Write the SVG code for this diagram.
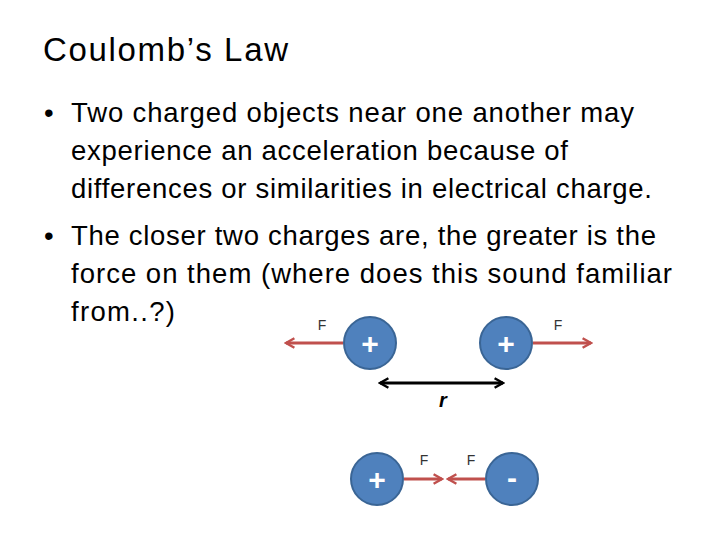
<svg xmlns="http://www.w3.org/2000/svg" width="720" height="540" viewBox="0 0 720 540">
<style>
text{font-family:"Liberation Sans","Open Sans",sans-serif;fill:#000}
.b{font-size:27.5px}
.f{font-size:14px;fill:#333}
.ch{fill:#4f81bd;stroke:#3a6595;stroke-width:2}
.sg{fill:#fff;font-size:30px;font-weight:bold;text-anchor:middle}
.red{stroke:#c0504d;stroke-width:3;fill:none}
</style>
<defs>
<marker id="ra" viewBox="0 0 10 10" refX="8" refY="5" markerWidth="4" markerHeight="4" orient="auto-start-reverse"><path d="M1,1 L8,5 L1,9" fill="none" stroke="#c0504d" stroke-width="2"/></marker>
<marker id="ka" viewBox="0 0 10 10" refX="8" refY="5" markerWidth="4" markerHeight="4" orient="auto-start-reverse"><path d="M1,1 L8,5 L1,9" fill="none" stroke="#000" stroke-width="2"/></marker>
</defs>
<rect width="720" height="540" fill="#fff"/>
<text x="43" y="61" font-size="33" textLength="245">Coulomb’s Law</text>
<text x="44" y="122" class="b">•</text>
<text x="71" y="122" class="b" textLength="563">Two charged objects near one another may</text>
<text x="71" y="160" class="b" textLength="497">experience an acceleration because of</text>
<text x="71" y="198" class="b" textLength="581">differences or similarities in electrical charge.</text>
<text x="44" y="245" class="b">•</text>
<text x="71" y="245" class="b" textLength="585">The closer two charges are, the greater is the</text>
<text x="71" y="283" class="b" textLength="601">force on them (where does this sound familiar</text>
<text x="71" y="321" class="b" textLength="104">from..?)</text>
<g id="connectors">
<line class="red" x1="343" y1="343" x2="286" y2="343" marker-end="url(#ra)"/>
<line class="red" x1="533" y1="343" x2="591" y2="343" marker-end="url(#ra)"/>
<line stroke="#000" stroke-width="3" x1="380" y1="383" x2="503" y2="383" marker-start="url(#ka)" marker-end="url(#ka)"/>
<line class="red" x1="404" y1="479" x2="442" y2="479" marker-end="url(#ra)"/>
<line class="red" x1="485" y1="479" x2="448" y2="479" marker-end="url(#ra)"/>
</g>
<text x="322" y="330" class="f" text-anchor="middle">F</text>
<text x="558" y="330" class="f" text-anchor="middle">F</text>
<text x="424" y="465" class="f" text-anchor="middle">F</text>
<text x="471" y="465" class="f" text-anchor="middle">F</text>
<text x="443" y="407" font-family="Liberation Serif" font-style="italic" font-weight="bold" font-size="20" text-anchor="middle">r</text>
<g id="q1"><circle class="ch" cx="370" cy="343" r="26"/><text class="sg" x="370" y="354">+</text></g>
<g id="q2"><circle class="ch" cx="506" cy="343" r="26"/><text class="sg" x="506" y="354">+</text></g>
<g id="q3"><circle class="ch" cx="377" cy="479" r="26"/><text class="sg" x="377" y="490">+</text></g>
<g id="q4"><circle class="ch" cx="512" cy="479" r="26"/><text class="sg" x="512" y="488">-</text></g>
</svg>
